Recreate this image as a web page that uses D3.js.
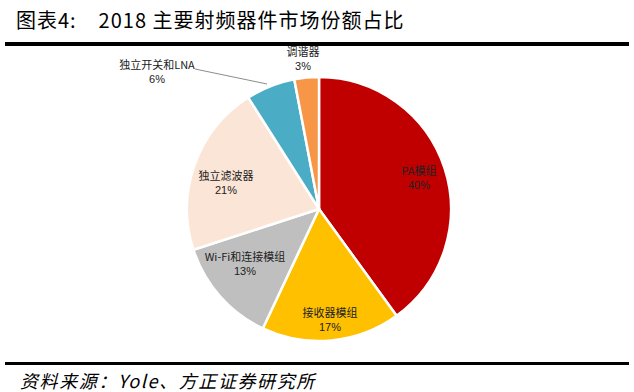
<!DOCTYPE html>
<html>
<head>
<meta charset="utf-8">
<script src="https://cdn.jsdelivr.net/npm/d3@7"></script>
<style>
  body { margin: 0; background: #fff; }
  svg { display: block; }
</style>
</head>
<body>
<div class="chart"></div>
<script>
// Paramètres
const width = 634;
const height = 392;

// Données
const categories = ["PA模组", "接收器模组", "Wi-Fi和连接模组", "独立滤波器", "独立开关和LNA", "调谐器"];
const shares = [40, 17, 13, 21, 6, 3];
const colors = ["#C00000", "#FFC000", "#BFBFBF", "#FBE5D6", "#4BACC6", "#F79646"];

const cx = 319, cy = 209, radius = 132;

const svg = d3.select(".chart").append("svg")
  .attr("width", width)
  .attr("height", height);

// Titre
svg.append("text")
  .attr("x", 16).attr("y", 28)
  .style("font", "20px 'Noto Sans CJK SC', sans-serif")
  .style("white-space", "pre")
  .style("letter-spacing", "1px")
  .text("图表4:    2018 主要射频器件市场份额占比");

svg.append("rect").attr("x", 5).attr("y", 42).attr("width", 624).attr("height", 4).attr("fill", "#000");
svg.append("rect").attr("x", 5).attr("y", 362).attr("width", 624).attr("height", 3).attr("fill", "#000");

svg.append("text")
  .attr("x", 20).attr("y", 388)
  .style("font", "italic 18px 'Noto Sans CJK SC', sans-serif")
  .style("letter-spacing", "1.6px")
  .text("资料来源：Yole、方正证券研究所");

// Camembert
const data = categories.map((c, i) => ({ name: c, value: shares[i], color: colors[i] }));
const pie = d3.pie().sort(null).value(d => d.value);
const arc = d3.arc().innerRadius(0).outerRadius(radius);
const arcs = pie(data);

const g = svg.append("g").attr("transform", `translate(${cx},${cy})`);

g.selectAll("path")
  .data(arcs)
  .join("path")
  .attr("d", arc)
  .attr("fill", d => d.data.color)
  .attr("stroke", "#fff")
  .attr("stroke-width", 2.5)
  .attr("stroke-linejoin", "round");

// Étiquettes
const labelPos = [
  [100, -34], [11, 108], [-74, 52], [-93, -29], [-162, -140], [-16, -153]
];

const labels = g.selectAll("g.lbl")
  .data(arcs)
  .join("g")
  .attr("class", "lbl")
  .attr("transform", (d, i) => `translate(${labelPos[i][0]},${labelPos[i][1]})`);

labels.append("text")
  .attr("text-anchor", "middle")
  .attr("y", 0)
  .style("font", "11px 'Noto Sans CJK SC', sans-serif")
  .attr("fill", "#222")
  .text(d => d.data.name);

labels.append("text")
  .attr("text-anchor", "middle")
  .attr("y", 14)
  .style("font", "11px 'Liberation Sans', Arial, sans-serif")
  .attr("fill", "#222")
  .text(d => d.data.value + "%");

// Ligne de rappel pour 独立开关和LNA
g.append("line")
  .attr("x1", -124).attr("y1", -140)
  .attr("x2", -52).attr("y2", -125)
  .attr("stroke", "#8c8c8c")
  .attr("stroke-width", 1);
</script>
</body>
</html>
